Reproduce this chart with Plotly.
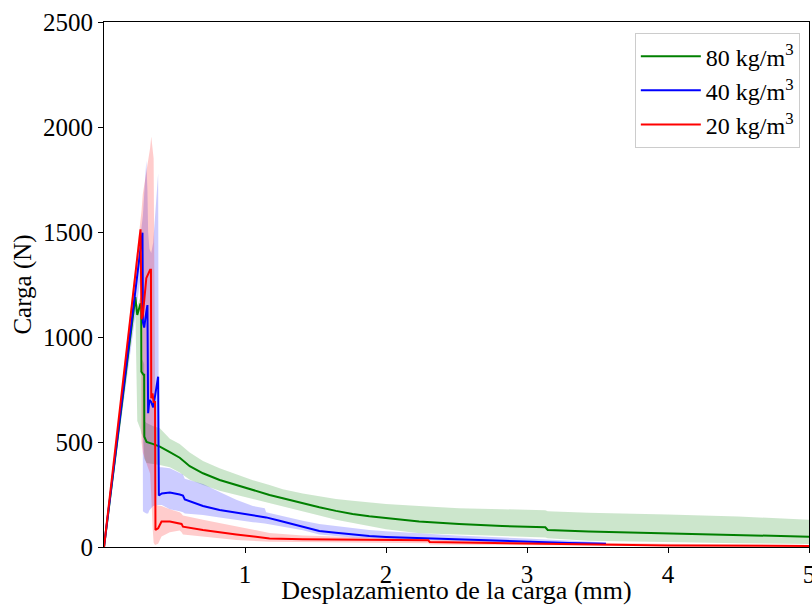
import plotly.graph_objects as go

# ---- Data ----
# 80 kg/m3 (green)
g_x = [0, 0.222, 0.236, 0.259, 0.264, 0.265, 0.28, 0.285, 0.286, 0.302, 0.35, 0.396, 0.467, 0.537, 0.608,
       0.702, 0.82, 0.938, 1.056, 1.174, 1.268, 1.41, 1.527, 1.645, 1.763, 1.881, 2.0, 2.235, 2.518, 2.824,
       3.13, 3.147, 3.437, 4.0, 4.5, 5.0]
g_y = [0, 1190, 1105, 1160, 1150, 835, 820, 820, 525, 500, 490, 478, 452, 425, 385,
       351, 319, 295, 271, 248, 232, 208, 189, 172, 157, 146, 138, 121, 110, 100,
       94, 81, 74, 65, 57, 49]
g_hi = [0, 1230, 1150, 1190, 1180, 900, 880, 870, 600, 590, 575, 565, 515, 490, 450,
        410, 375, 345, 318, 295, 275, 255, 240, 228, 220, 212, 205, 195, 185, 180,
        175, 170, 163, 155, 145, 130]
g_lo = [0, 1150, 600, 560, 550, 540, 520, 480, 420, 400, 395, 390, 380, 355, 320,
        295, 268, 248, 228, 210, 195, 170, 150, 130, 115, 100, 85, 65, 57, 52,
        45, 42, 30, 22, 18, 14]

# 40 kg/m3 (blue)
b_x = [0, 0.273, 0.276, 0.285, 0.30, 0.308, 0.313, 0.322, 0.335, 0.349, 0.384, 0.389, 0.41, 0.467, 0.537,
       0.56, 0.573, 0.702, 0.82, 0.938, 1.056, 1.14, 1.15, 1.245, 1.41, 1.527, 1.645, 1.763, 1.881, 2.0,
       2.5, 3.0, 3.3, 3.56]
b_y = [0, 1497, 1070, 1045, 1120, 1152, 637, 700, 690, 665, 811, 245, 255, 259, 250,
       245, 227, 195, 176, 163, 152, 143, 141, 125, 97, 76, 68, 60, 52, 48,
       36, 25, 19, 15]
b_hi = [0, 1550, 1580, 1680, 1840, 1700, 1500, 1420, 1400, 1450, 1780, 380, 380, 375, 355,
        345, 325, 300, 262, 225, 195, 185, 165, 150, 125, 110, 100, 92, 81, 75,
        55, 40, 30, 22]
b_lo = [0, 1350, 170, 165, 160, 160, 160, 175, 185, 195, 200, 200, 200, 180, 170,
        165, 160, 152, 140, 128, 118, 112, 110, 100, 80, 60, 52, 45, 41, 38,
        28, 18, 12, 8]

# 20 kg/m3 (red)
r_x = [0, 0.259, 0.266, 0.275, 0.30, 0.327, 0.333, 0.335, 0.344, 0.352, 0.362, 0.365, 0.384, 0.408, 0.467,
       0.537, 0.55, 0.56, 0.702, 0.938, 1.174, 1.41, 1.881, 2.3, 2.31, 3.0, 3.44, 4.0, 5.0]
r_y = [0, 1513, 1085, 1100, 1280, 1320, 1320, 708, 732, 690, 690, 81, 89, 121, 121,
       113, 110, 97, 81, 60, 41, 37, 34, 32, 24, 17, 13, 7, 5]
r_hi = [0, 1530, 1600, 1680, 1780, 1900, 1940, 1955, 1900, 1850, 800, 200, 198, 195, 180,
        165, 158, 150, 130, 97, 67, 55, 45, 42, 35, 25, 20, 15, 10]
r_lo = [0, 1400, 500, 450, 400, 350, 300, 250, 100, 20, 10, 10, 15, 50, 70,
        78, 70, 60, 50, 33, 25, 22, 20, 18, 12, 8, 6, 4, 2]

series_names = ["80 kg/m<sup>3</sup>", "40 kg/m<sup>3</sup>", "20 kg/m<sup>3</sup>"]
x_ticks = [1, 2, 3, 4, 5]
y_ticks = [0, 500, 1000, 1500, 2000, 2500]

series = [
    (series_names[0], g_x, g_y, g_lo, g_hi, "#008000", "rgba(0,128,0,0.2)"),
    (series_names[1], b_x, b_y, b_lo, b_hi, "#0000ff", "rgba(0,0,255,0.2)"),
    (series_names[2], r_x, r_y, r_lo, r_hi, "#ff0000", "rgba(255,0,0,0.2)"),
]

FONT = "Liberation Serif"
fig = go.Figure()

for name, x, y, lo, hi, col, fcol in series:
    fig.add_trace(go.Scatter(
        x=list(x) + list(x)[::-1], y=list(hi) + list(lo)[::-1],
        fill="toself", fillcolor=fcol, line=dict(width=0), mode="lines",
        hoverinfo="skip", showlegend=False))

for name, x, y, lo, hi, col, fcol in series:
    fig.add_trace(go.Scatter(x=x, y=y, mode="lines", name=name,
                             line=dict(color=col, width=2)))

axis_common = dict(showline=True, linecolor="black", linewidth=1, mirror=True,
                   ticks="outside", ticklen=5, tickwidth=1, tickcolor="black",
                   showgrid=False, zeroline=False, automargin=False,
                   ticklabeloverflow="allow",
                   tickfont=dict(family=FONT, size=25, color="black"))

fig.update_layout(
    template="none",
    width=812, height=605,
    margin=dict(l=104, r=3, t=22, b=58),
    paper_bgcolor="white", plot_bgcolor="white",
    font=dict(family=FONT, color="black"),
    xaxis=dict(range=[0, 5], tickvals=x_ticks, ticktext=[str(v) for v in x_ticks],
               title=dict(text="Desplazamiento de la carga (mm)", standoff=2,
                          font=dict(family=FONT, size=26, color="black")),
               **axis_common),
    yaxis=dict(range=[0, 2500], tickvals=y_ticks, ticktext=[str(v) for v in y_ticks],
               title=dict(text="Carga (N)", standoff=4,
                          font=dict(family=FONT, size=25, color="black")),
               **axis_common),
    legend=dict(x=0.987, y=0.979, xanchor="right", yanchor="top",
                bordercolor="#cccccc", borderwidth=1, bgcolor="rgba(255,255,255,0.85)",
                font=dict(family=FONT, size=24, color="black"),
                itemwidth=60, tracegroupgap=0),
    showlegend=True,
)

fig.write_html(
    "out.html",
    config={"displayModeBar": False},
    post_script="document.body.style.margin='0';document.body.style.overflow='hidden';"
                "document.documentElement.style.overflow='hidden';",
)
